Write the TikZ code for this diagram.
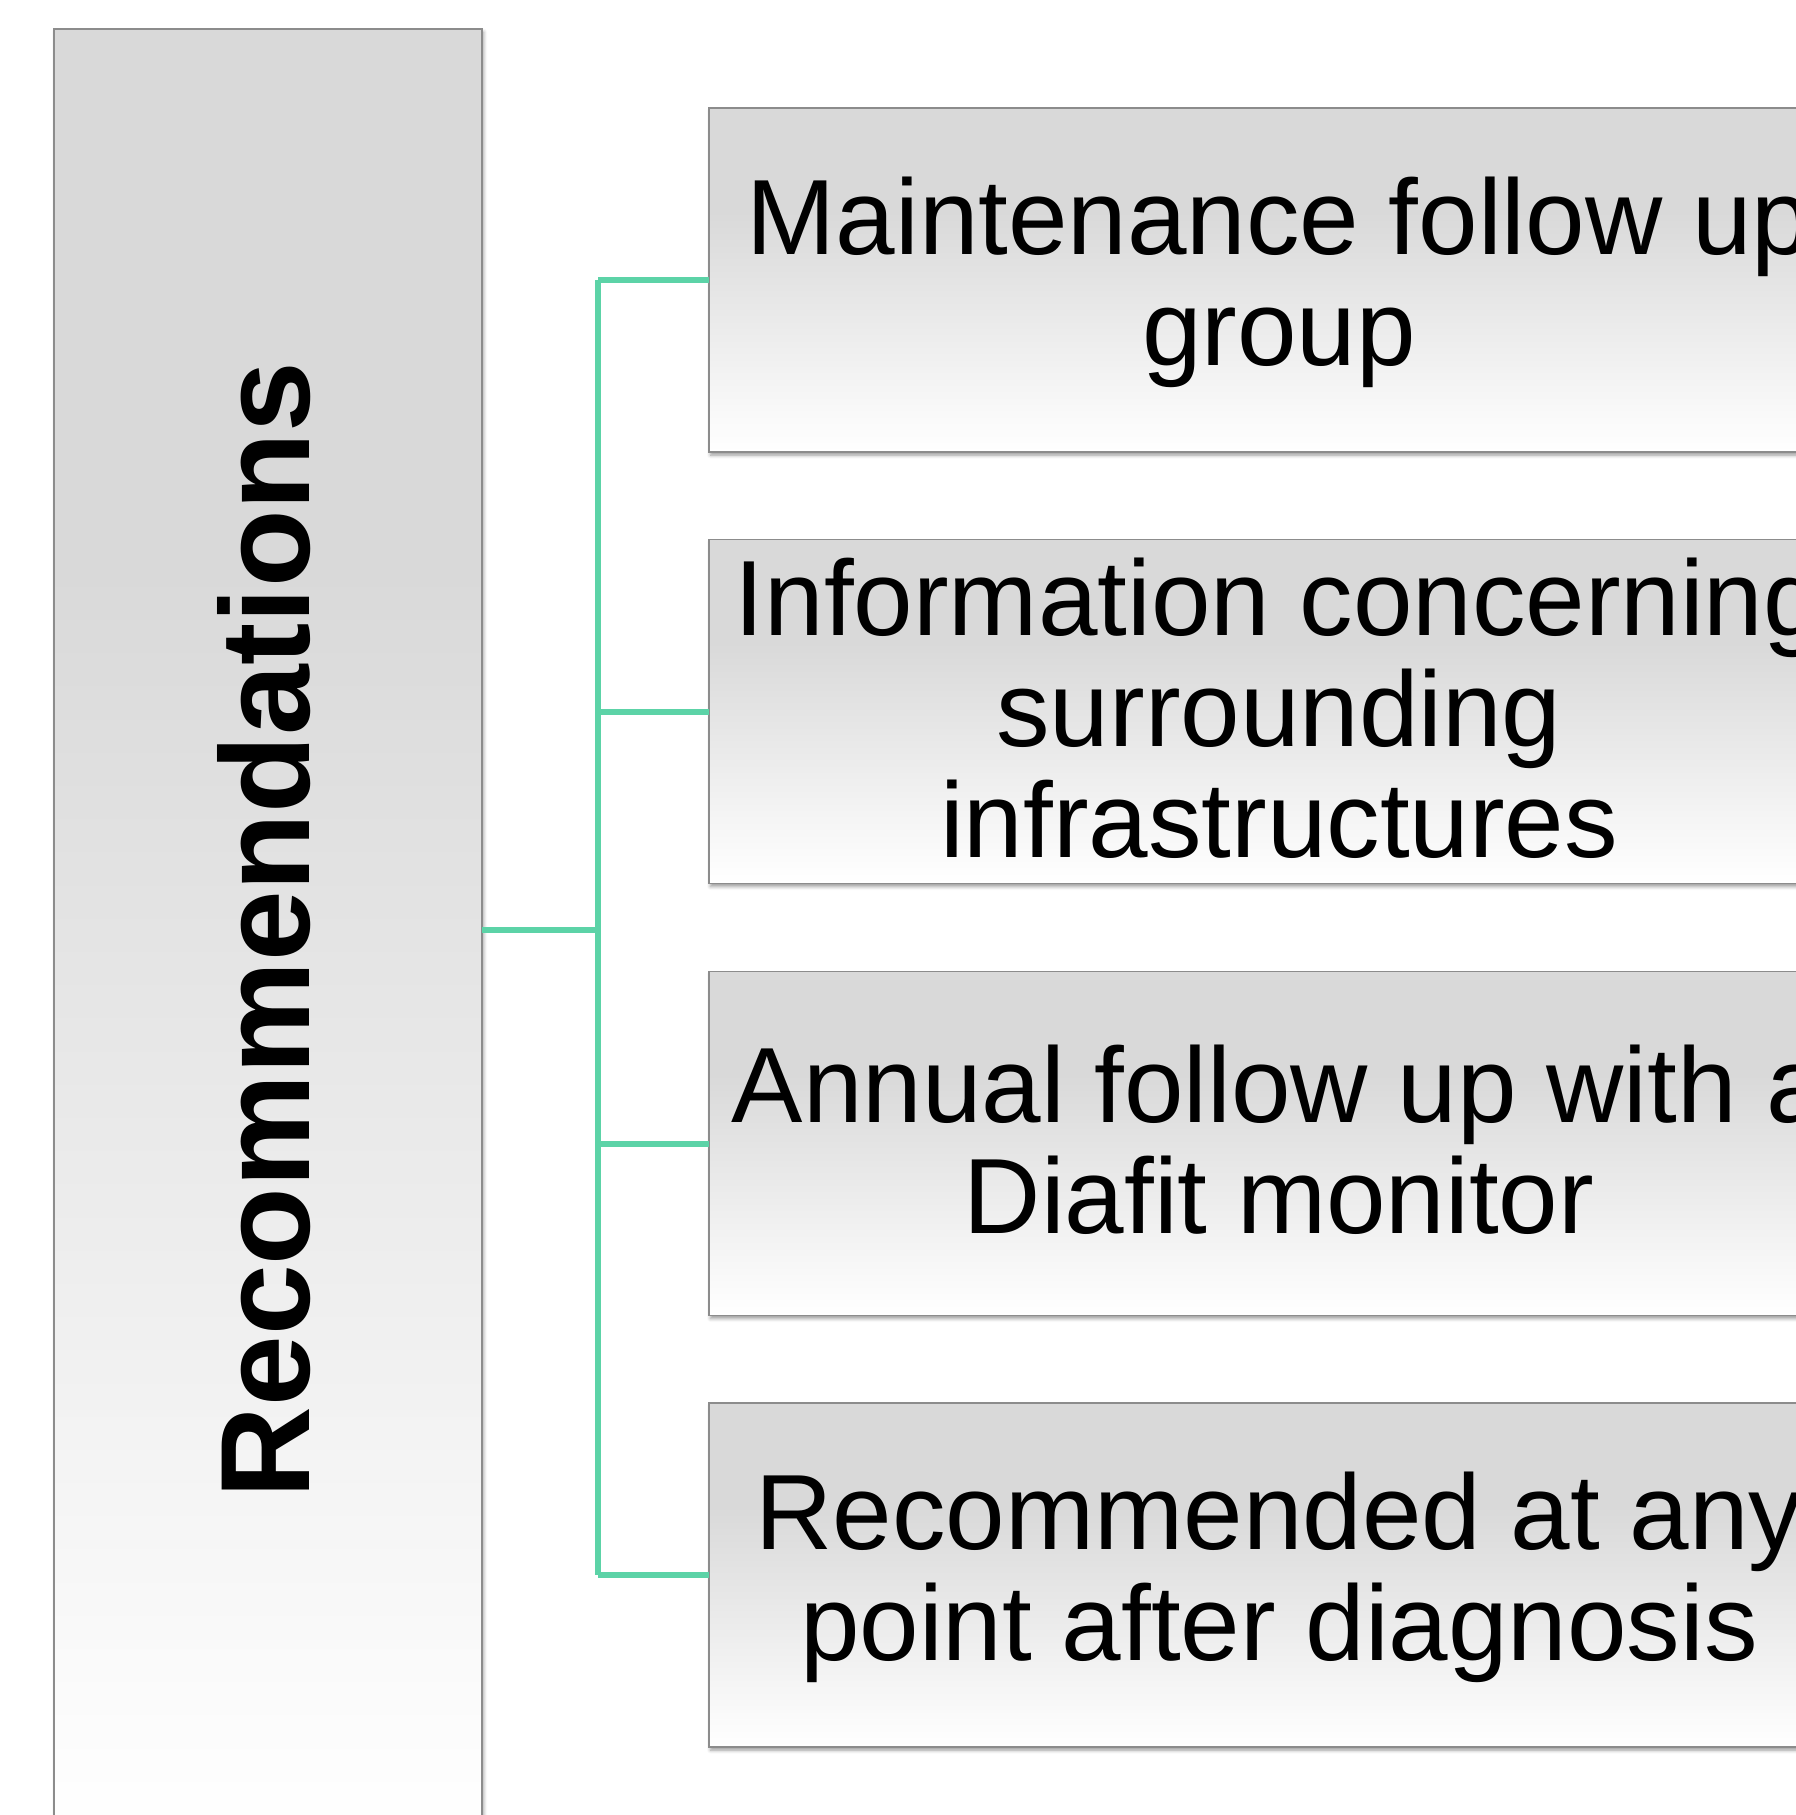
\documentclass[tikz,border=0pt]{standalone}
\usepackage{fontspec}
\setmainfont{Liberation Sans}
\usetikzlibrary{shadows.blur}

\definecolor{boxgray}{RGB}{217,217,217}
\definecolor{edgegray}{RGB}{140,140,140}
\definecolor{linkgreen}{RGB}{92,211,167}

% grey at the top, fading to white towards the bottom
\pgfdeclareverticalshading{boxfade}{100bp}{%
  color(0bp)=(white); color(25bp)=(white);
  color(60bp)=(boxgray); color(100bp)=(boxgray)}

% fixed line height so every box centres its lines the same way
\newcommand\linestrut{\rule[-13pt]{0pt}{95pt}}

\tikzset{
  panel/.style={draw=edgegray, line width=1.5pt, shading=boxfade,
    blur shadow={shadow xshift=1.5pt, shadow yshift=-3pt,
      shadow blur radius=3.5pt, shadow opacity=40},
    inner sep=0pt, outer sep=0pt},
  itembox/.style={panel, minimum width=1140pt, minimum height=344pt,
    align=center, font=\fontsize{107}{111}\selectfont},
  headtext/.style={rotate=90, font=\fontsize{127}{130}\selectfont\bfseries},
  link/.style={draw=linkgreen, line width=6pt}
}

\begin{document}
\begin{tikzpicture}[x=1pt, y=-1pt]
  \useasboundingbox (0,0) rectangle (1796,1815);

  % main column
  \node[panel, minimum width=428pt, minimum height=1802pt] (head) at (268,930) {};
  \node[headtext] (headlbl) at (264,930) {Recommendations};

  % items
  \node[itembox] (i1) at (1279,280)
    {\linestrut Maintenance follow up\\\linestrut group};
  \node[itembox] (i2) at (1279,711.5)
    {\linestrut Information concerning\\\linestrut surrounding\\\linestrut infrastructures};
  \node[itembox] (i3) at (1279,1143.5)
    {\linestrut Annual follow up with a\\\linestrut Diafit monitor};
  \node[itembox] (i4) at (1279,1575)
    {\linestrut Recommended at any\\\linestrut point after diagnosis};

  % connectors
  \coordinate (trunk) at (598,930);
  \draw[link] (head.east |- trunk) -- (trunk);
  \draw[link] (trunk |- i1.west) -- (trunk |- i4.west);
  \foreach \k in {1,...,4}
    \draw[link] (trunk |- i\k.west) -- (i\k.west);
\end{tikzpicture}
\end{document}
